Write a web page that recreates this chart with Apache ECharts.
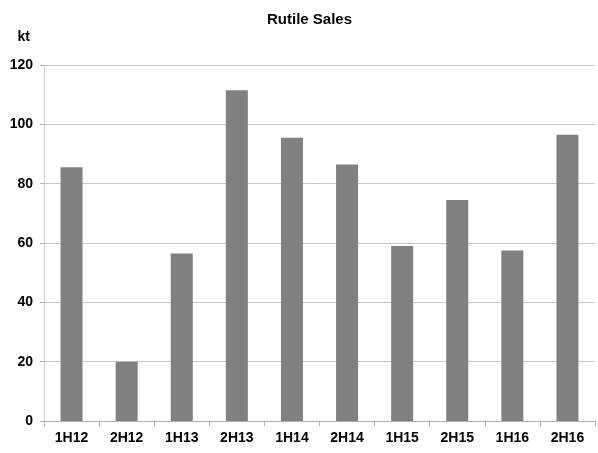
<!DOCTYPE html>
<html>
<head>
<meta charset="utf-8">
<script src="https://cdn.jsdelivr.net/npm/echarts@6/dist/echarts.min.js"></script>
<style>
html, body { margin: 0; padding: 0; background: #fff; }
#chart { width: 598px; height: 453px; }
</style>
</head>
<body>
<div id="chart"></div>
<script>
var periods = ['1H12', '2H12', '1H13', '2H13', '1H14', '2H14', '1H15', '2H15', '1H16', '2H16'];
var sales = [85.5, 20, 56.5, 111.5, 95.5, 86.5, 59, 74.5, 57.5, 96.5];
var yTicks = [0, 20, 40, 60, 80, 100, 120];

var myChart = echarts.init(document.getElementById('chart'));
var option = {
    animation: false,
    title: {
        text: 'Rutile Sales',
        left: 262,
        top: 7,
        textStyle: { fontFamily: 'Liberation Sans', fontSize: 15, fontWeight: 'bold', color: '#000' }
    },
    grid: { left: 44, right: 3, top: 65, bottom: 32 },
    xAxis: {
        type: 'category',
        data: periods,
        axisLine: { lineStyle: { color: '#b0b0b0', width: 1 } },
        axisTick: { show: true, length: 5, lineStyle: { color: '#b0b0b0' } },
        axisLabel: { margin: 10, fontFamily: 'Liberation Sans', fontSize: 14, fontWeight: 'bold', color: '#000' }
    },
    yAxis: {
        type: 'value',
        name: 'kt',
        nameLocation: 'end',
        nameGap: 21,
        nameTextStyle: { fontFamily: 'Liberation Sans', fontSize: 14, fontWeight: 'bold', color: '#000', align: 'right', padding: [0, 14, 0, 0] },
        min: yTicks[0],
        max: yTicks[yTicks.length - 1],
        interval: 20,
        axisLine: { show: true, lineStyle: { color: '#d0d0d0' } },
        axisTick: { show: true, length: 4, lineStyle: { color: '#b0b0b0' } },
        axisLabel: { margin: 11, fontFamily: 'Liberation Sans', fontSize: 14, fontWeight: 'bold', color: '#000' },
        splitLine: { lineStyle: { color: '#c8c8c8', width: 1 } }
    },
    series: [{
        type: 'bar',
        data: sales,
        barWidth: 22,
        itemStyle: { color: '#808080' }
    }]
};
myChart.setOption(option);
</script>
</body>
</html>
